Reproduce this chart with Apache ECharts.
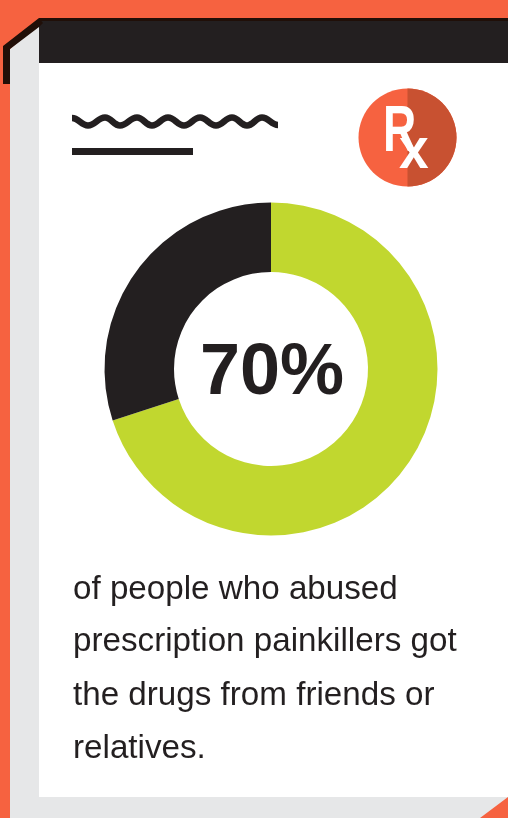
<!DOCTYPE html>
<html><head><meta charset="utf-8">
<style>html,body{margin:0;padding:0;background:#fff}#c{width:508px;height:818px}</style>
<script src="https://cdn.jsdelivr.net/npm/echarts@6/dist/echarts.min.js"></script>
</head><body><div id="c"></div>
<script>
const categories = ['Friends or relatives', 'Other sources'];
const values = [70, 30];
const sliceColors = ['#c1d72f', '#231f20'];
const headline = '70%';
const bodyLines = ['of people who abused', 'prescription painkillers got', 'the drugs from friends or', 'relatives.'];
const bodyTops = [573, 625.5, 679, 732];

const ORANGE = '#f66240', GREY = '#e6e7e8', INK = '#231f20', FOLD = '#200f08';
const chart = echarts.init(document.getElementById('c'), null, {renderer: 'canvas'});

const waveXs = [72, 88, 105, 120, 137, 152, 168, 184, 200, 216, 232, 247, 262, 278];
const waveYs = [118, 125.5, 117.5, 125.5, 117.5, 125.5, 117.5, 125.5, 117.5, 125.5, 117.5, 125.5, 117.5, 125];
const waveSegs = waveXs.slice(1).map((x, i) => {
  const x0 = waveXs[i], y0 = waveYs[i], d = (x - x0) * 0.42;
  return {type: 'bezierCurve', shape: {x1: x0, y1: y0, x2: x, y2: waveYs[i + 1], cpx1: x0 + d, cpy1: y0, cpx2: x - d, cpy2: waveYs[i + 1]},
    style: {fill: null, stroke: INK, lineWidth: 6.5, lineCap: 'butt'}, z: 2, silent: true};
});

const rect = (x, y, w, h, fill, z) => ({type: 'rect', shape: {x, y, width: w, height: h}, style: {fill}, z: z || 0, silent: true});
const graphic = [
  rect(0, 0, 508, 818, ORANGE, 0),
  {type: 'polygon', shape: {points: [[10, 49], [39, 25], [39, 797], [508, 797], [508, 797], [480, 818], [10, 818]]}, style: {fill: GREY}, z: 1, silent: true},
  rect(39, 63, 469, 734, '#ffffff', 1),
  rect(39, 21, 469, 42, INK, 1),
  rect(39, 18, 469, 3, FOLD, 2),
  {type: 'polygon', shape: {points: [[3, 46], [39, 18], [43, 23], [39, 27], [10, 49], [10, 84], [3, 84]]}, style: {fill: FOLD}, z: 2, silent: true}
].concat(waveSegs, [
  rect(72, 148, 121, 7, INK, 2),
  {type: 'circle', shape: {cx: 407.5, cy: 137.5, r: 49}, style: {fill: ORANGE}, z: 2, silent: true},
  {type: 'sector', shape: {cx: 407.5, cy: 137.5, r: 49, r0: 0, startAngle: -Math.PI / 2, endAngle: Math.PI / 2, clockwise: true}, style: {fill: '#c85131'}, z: 3, silent: true},
  {type: 'text', x: 383, y: 101, scaleX: 0.72, style: {text: 'R', fill: '#fff', font: 'bold 64px "Liberation Sans"'}, z: 4, silent: true},
  {type: 'text', x: 399, y: 123, scaleX: 0.92, style: {text: 'x', fill: '#fff', font: 'bold 58px "Liberation Sans"'}, z: 5, silent: true},
  {type: 'text', x: 272, y: 338, style: {text: headline, fill: INK, font: 'bold 72px "Liberation Sans"', align: 'center'}, z: 6, silent: true}
], bodyLines.map((t, i) => ({type: 'text', x: 73, y: bodyTops[i], style: {text: t, fill: INK, font: '33.2px "Liberation Sans"'}, z: 6, silent: true})));

chart.setOption({
  animation: false,
  graphic: {elements: graphic},
  series: [{
    type: 'pie',
    center: [271, 369],
    radius: [97, 166.5],
    startAngle: 90,
    clockwise: true,
    silent: true,
    z: 5,
    label: {show: false},
    labelLine: {show: false},
    data: categories.map((name, i) => ({name, value: values[i], itemStyle: {color: sliceColors[i]}}))
  }]
});
</script></body></html>
